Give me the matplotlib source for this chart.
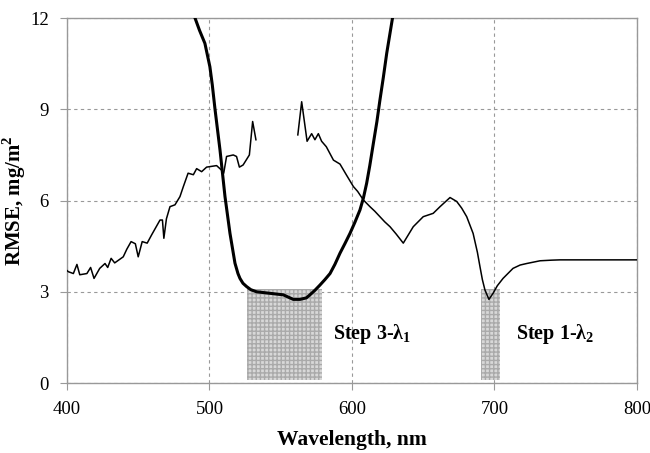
import numpy as np
import matplotlib.pyplot as plt

plt.rcParams['font.family'] = ['Liberation Serif', 'DejaVu Serif']
plt.rcParams['mathtext.fontset'] = 'custom'
plt.rcParams['mathtext.rm'] = 'Liberation Serif'
plt.rcParams['mathtext.bf'] = 'Liberation Serif:bold'

# thin curve, first part (400-533 nm)
wl_a = [400, 401, 404.5, 407, 409, 414, 416.6, 419, 423, 426.7, 428.6, 431, 433.5,
        439.5, 442, 445, 448, 450, 452.8, 456.3, 459.4, 465.3, 467, 468, 469.8,
        472.3, 475.8, 479.3, 481.6, 485, 488.7, 491, 494.5, 498, 505, 508.5, 510,
        512, 516.7, 519, 521, 523.6, 528, 530.3, 532.6]
rmse_a = [3.7, 3.66, 3.6, 3.9, 3.56, 3.6, 3.8, 3.44, 3.77, 3.93, 3.8, 4.1, 3.95,
          4.15, 4.4, 4.65, 4.58, 4.15, 4.65, 4.6, 4.87, 5.36, 5.36, 4.76, 5.4,
          5.8, 5.86, 6.13, 6.45, 6.9, 6.85, 7.05, 6.95, 7.1, 7.15, 7.0, 6.9,
          7.45, 7.5, 7.45, 7.1, 7.17, 7.5, 8.6, 8.0]
# thin curve, second part (562-800 nm)
wl_b = [562, 564.7, 568.5, 571.7, 574, 576.4, 578.7, 582, 587, 591.6, 596, 601, 604,
        608, 612.6, 616, 619.6, 623, 626.7, 631, 636, 643, 650, 657, 661.8, 668.8,
        673.5, 677, 680.5, 685, 688, 689.8, 691.5, 693.3, 696.1, 699, 702, 706, 713,
        718, 722.6, 732, 740, 746, 770, 800]
rmse_b = [8.16, 9.25, 7.95, 8.2, 8.0, 8.2, 7.95, 7.77, 7.33, 7.2, 6.85, 6.46, 6.3,
          6.02, 5.8, 5.65, 5.47, 5.3, 5.14, 4.9, 4.6, 5.14, 5.47, 5.58, 5.8, 6.1,
          5.97, 5.75, 5.47, 4.92, 4.3, 3.83, 3.4, 3.06, 2.75, 2.95, 3.2, 3.44, 3.77,
          3.88, 3.93, 4.02, 4.04, 4.05, 4.05, 4.05]
# thick curve
wl_c = [489.5, 493, 496.8, 500.3, 502, 503.9, 507.4, 510.9, 514.4, 517.9, 520,
        521.4, 523.5, 526.1, 529, 533, 542.4, 551.8, 558.8, 563.5, 568, 570.5,
        574, 577.5, 581, 584.6, 588, 591.6, 595, 598.6, 602, 605.6, 608, 610.3,
        612.5, 615, 617.5, 619.6, 622, 624.4, 628.6]
rmse_c = [12.05, 11.6, 11.17, 10.4, 9.8, 9.0, 7.66, 6.13, 4.92, 3.94, 3.6,
          3.44, 3.28, 3.17, 3.07, 3.0, 2.95, 2.9, 2.75, 2.75, 2.8, 2.9,
          3.05, 3.22, 3.4, 3.6, 3.9, 4.27, 4.58, 4.92, 5.28, 5.69, 6.08, 6.57,
          7.15, 7.88, 8.6, 9.3, 10.05, 10.85, 12.05]

# shaded bands (start, end, top)
bands = [(526.5, 578.7, 3.1), (690.5, 704, 3.1)]
band_labels = ['Step 3-$\\mathbf{\\lambda_1}$', 'Step 1-$\\mathbf{\\lambda_2}$']
label_x = [586.5, 715]

fig = plt.figure(figsize=(6.5, 4.53), dpi=100)
ax = fig.add_axes([0.103, 0.1545, 0.877, 0.8055])

for (x0, x1, top) in bands:
    ax.fill_between([x0, x1], 0.1, top, facecolor='#d8d8d8', edgecolor='#aaaaaa',
                    hatch='++++', linewidth=0, zorder=1)

ax.plot(wl_a, rmse_a, color='black', lw=1.1, zorder=3)
ax.plot(wl_b, rmse_b, color='black', lw=1.1, zorder=3)
ax.plot(wl_c, rmse_c, color='black', lw=2.2, zorder=3)

for lab, lx in zip(band_labels, label_x):
    ax.text(lx, 1.6, lab, fontsize=14.5, fontweight='bold', va='center', ha='left')

ax.set_xlim(400, 800)
ax.set_ylim(0, 12)
ax.set_xticks([400, 500, 600, 700, 800])
ax.set_yticks([0, 3, 6, 9, 12])
ax.grid(True, color='#999999', linestyle=(0, (3, 3)), linewidth=0.8)
ax.set_axisbelow(True)
for s in ax.spines.values():
    s.set_color('#999999')
    s.set_linewidth(1.0)
ax.tick_params(colors='#999999', labelcolor='black', labelsize=13.5, length=5, pad=8)

ax.set_xlabel('Wavelength, nm', fontsize=15.5, fontweight='bold')
ax.set_ylabel('RMSE, mg/m$^\\mathbf{2}$', fontsize=15, fontweight='bold')
ax.xaxis.set_label_coords(0.5, -0.13)
ax.yaxis.set_label_coords(-0.068, 0.5)

plt.savefig('out.png', dpi=100)
